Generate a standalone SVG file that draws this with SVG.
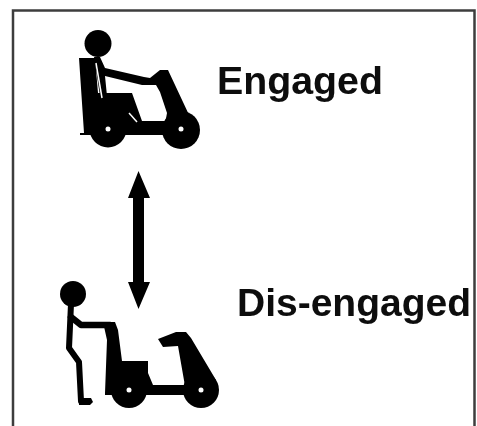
<svg xmlns="http://www.w3.org/2000/svg" width="477" height="426" viewBox="0 0 477 426">
<defs><filter id="soft" x="-5%" y="-5%" width="110%" height="110%"><feGaussianBlur stdDeviation="0.5"/></filter></defs>
<style>
.k{fill:#000}
.l{fill:none;stroke:#000;stroke-linejoin:round;stroke-linecap:round}
.h{fill:#fff}
.g{fill:none;stroke:#fff;stroke-width:1.500}
text{font-family:"Liberation Sans",Arial,sans-serif;font-weight:700;font-size:38px;fill:#0a0a0a}
</style>
<rect width="477" height="426" fill="#fff"/>
<g filter="url(#soft)">
<path d="M13 426V10.500H474.500V426" fill="none" stroke="#3c3c3c" stroke-width="2.500"/>
<g id="engaged-scooter">
<circle class="k" cx="98" cy="43.500" r="13.500"/>
<path class="k" d="M79 58H95L98 93H132L142 121H168V135H80V133H84Z"/>
<path class="k" d="M94 57H100L105 68L144 77L150 78L160 70L168 70L190 117L185 130L165 124L167 113L160 92L156 85L142 85L105 76L107 96H100Z"/>
<circle class="k" cx="108" cy="129" r="18.500"/>
<circle class="k" cx="181" cy="130" r="19"/>
<path class="g" d="M96 63L102 98"/>
<path class="g" d="M129 113L137 122"/>
<circle class="h" cx="108" cy="129" r="2.500"/>
<circle class="h" cx="181" cy="129" r="2.500"/>
</g>
<g id="engaged-label"><text x="217" y="94" textLength="166" lengthAdjust="spacingAndGlyphs">Engaged</text></g>
<g id="connectors">
<path id="double-arrow" class="k" d="M138.500 171L150 198H144V282H150L138.500 309L128 282H133V198H128Z"/>
</g>
<g id="disengaged-scooter">
<circle class="k" cx="73" cy="294" r="13"/>
<path class="l" stroke-width="6" d="M71 304L69 348L79 362L81 401"/>
<path class="k" d="M79 398H91L93 402L90 405H79Z"/>
<path class="l" stroke-width="6.500" d="M71 317L81 325H110"/>
<path class="k" d="M103 322H115L118 330L122 361H148V373L153 385H190V395H105V393L107 340Z"/>
<path class="k" d="M158 339L176 332H186L191 338L216 380L205 386H185L178 346L163 347Z"/>
<circle class="k" cx="129" cy="390" r="18"/>
<circle class="k" cx="201" cy="390" r="18"/>
<circle class="h" cx="129" cy="390" r="2.500"/>
<circle class="h" cx="201" cy="390" r="2.500"/>
</g>
<g id="disengaged-label"><text x="237" y="316" textLength="234" lengthAdjust="spacingAndGlyphs">Dis-engaged</text></g>
</g>
</svg>
